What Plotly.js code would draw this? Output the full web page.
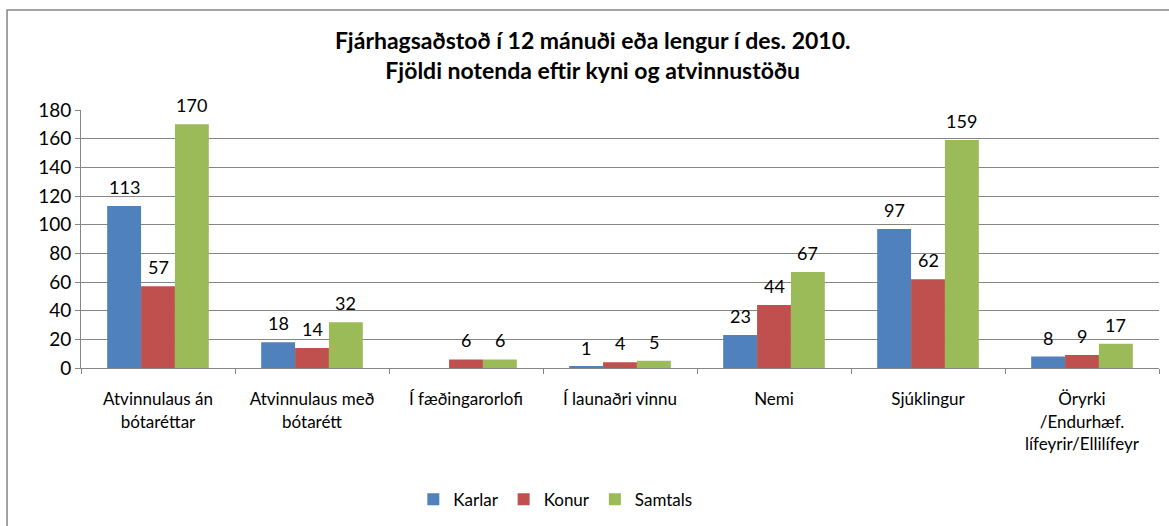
<!DOCTYPE html>
<html>
<head>
<meta charset="utf-8">
<script src="https://cdn.plot.ly/plotly-3.0.1.min.js"></script>
<style>
  body { margin: 0; background: #fff; }
  #plot { width: 1169px; height: 526px; }
</style>
</head>
<body>
<div id="plot"></div>
<script>
const categories = [
  "Atvinnulaus án<br>bótaréttar",
  "Atvinnulaus með<br>bótarétt",
  "Í fæðingarorlofi",
  "Í launaðri vinnu",
  "Nemi",
  "Sjúklingur",
  "Öryrki<br>/Endurhæf.<br>lífeyrir/Ellilífeyr"
];
const seriesNames = ['Karlar', 'Konur', 'Samtals'];
const karlar = [113, 18, null, 1, 23, 97, 8];
const konur = [57, 14, 6, 4, 44, 62, 9];
const samtals = [170, 32, 6, 5, 67, 159, 17];
const colors = ['#4F81BD', '#C0504D', '#9BBB59'];

const fontFam = "Lato, Open Sans, sans-serif";
const bargap = 0.34;

const allSeries = [karlar, konur, samtals];

const data = allSeries.map((vals, s) => ({
  type: 'bar',
  name: seriesNames[s],
  x: categories,
  y: vals,
  marker: { color: colors[s] },
  hoverinfo: 'name+y'
}));

// value labels sit a bit higher above the bars than plotly's own outside text
const barW = (1 - bargap) / allSeries.length;
const annotations = [];
allSeries.forEach((vals, s) => {
  vals.forEach((v, i) => {
    if (v === null) return;
    annotations.push({
      x: i + (s - (allSeries.length - 1) / 2) * barW,
      y: v,
      xref: 'x', yref: 'y',
      text: String(v),
      showarrow: false,
      yanchor: 'bottom',
      yshift: 6,
      font: { family: fontFam, size: 18, color: '#000' }
    });
  });
});

const layout = {
  width: 1169,
  height: 526,
  margin: { l: 81, r: 10, t: 110, b: 158, autoexpand: false },
  paper_bgcolor: '#fff',
  plot_bgcolor: '#fff',
  font: { family: fontFam, size: 17, color: '#000' },
  title: {
    text: '<b>Fjárhagsaðstoð í 12 mánuði eða lengur í des. 2010.<br>Fjöldi notenda eftir kyni og atvinnustöðu</b>',
    font: { family: fontFam, size: 23, color: '#000' },
    xref: 'container',
    yref: 'container',
    x: 0.507,
    xanchor: 'center',
    y: 0.906,
    yanchor: 'middle'
  },
  barmode: 'group',
  bargap: bargap,
  bargroupgap: 0,
  xaxis: {
    type: 'category',
    showline: true,
    linecolor: '#868686',
    ticks: 'outside',
    tickson: 'boundaries',
    ticklen: 5,
    tickcolor: '#868686',
    ticklabelstandoff: 16,
    showgrid: false,
    automargin: false,
    tickfont: { family: fontFam, size: 17 }
  },
  yaxis: {
    range: [0, 180],
    dtick: 20,
    showline: true,
    linecolor: '#868686',
    ticks: 'outside',
    ticklen: 5,
    tickcolor: '#868686',
    showgrid: true,
    gridcolor: '#868686',
    zeroline: false,
    automargin: false,
    tickfont: { family: fontFam, size: 19 }
  },
  legend: {
    orientation: 'h',
    x: 0.44,
    xanchor: 'center',
    y: -0.51,
    yanchor: 'middle',
    font: { family: fontFam, size: 17 },
    itemwidth: 30
  },
  annotations: annotations,
  shapes: [{
    type: 'rect',
    xref: 'paper', yref: 'paper',
    x0: -0.0686, x1: 1.05, y0: -0.8, y1: 1.388,
    line: { color: '#868686', width: 1.5 }
  }]
};

Plotly.newPlot('plot', data, layout, { displayModeBar: false });
</script>
</body>
</html>
